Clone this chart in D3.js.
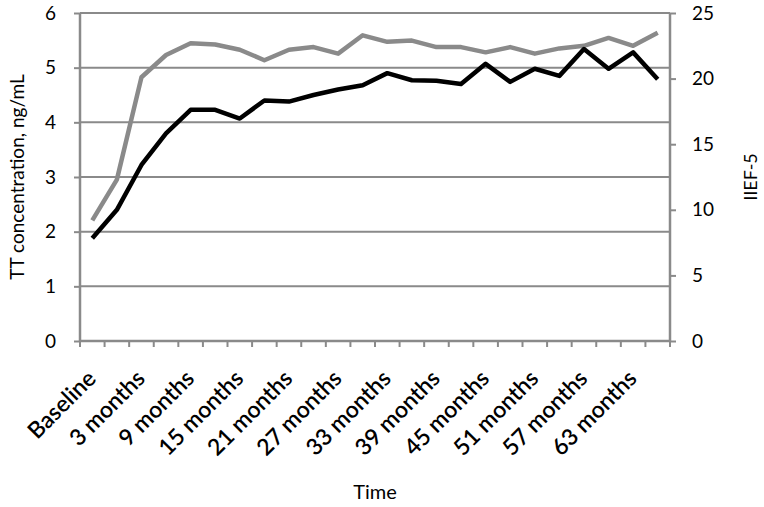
<!DOCTYPE html>
<html>
<head>
<meta charset="utf-8">
<script src="https://cdn.jsdelivr.net/npm/d3@7"></script>
<style>
  body { margin: 0; background: #fff; }
  text { font-family: Lato, "Open Sans", sans-serif; fill: #000; }
</style>
</head>
<body>
<div id="chart"></div>
<script>
var months = ["Baseline", "1 month", "3 months", "6 months", "9 months", "12 months",
  "15 months", "18 months", "21 months", "24 months", "27 months", "30 months",
  "33 months", "36 months", "39 months", "42 months", "45 months", "48 months",
  "51 months", "54 months", "57 months", "60 months", "63 months", "66 months"];

// TT concentration, ng/mL (left axis, black line)
var tt = [1.88, 2.40, 3.22, 3.80, 4.23, 4.23, 4.07, 4.40, 4.38, 4.50, 4.60, 4.68,
  4.90, 4.77, 4.76, 4.70, 5.07, 4.74, 4.98, 4.85, 5.34, 4.98, 5.28, 4.79];

// IIEF-5 (right axis, grey line)
var iief = [9.2, 12.3, 20.1, 21.8, 22.7, 22.6, 22.2, 21.4, 22.2, 22.4, 21.9, 23.3,
  22.8, 22.9, 22.4, 22.4, 22.0, 22.4, 21.9, 22.3, 22.5, 23.1, 22.5, 23.5];

var leftTicks = [0, 1, 2, 3, 4, 5, 6];
var rightTicks = [0, 5, 10, 15, 20, 25];

var svg_width = 764, svg_height = 507;
var pl = 80, pr = 670, pt = 13, pb = 341;

var svg = d3.select("#chart").append("svg")
  .attr("width", svg_width)
  .attr("height", svg_height);

var x = d3.scaleBand().domain(months).range([pl, pr]);
var yL = d3.scaleLinear().domain([0, 6]).range([pb, pt]);
var yR = d3.scaleLinear().domain([0, 25]).range([pb, pt]);

var grey = "#8a8a8a";

// gridlines
svg.append("g").selectAll("line")
  .data(leftTicks.slice(1))
  .enter().append("line")
  .attr("x1", pl).attr("x2", pr)
  .attr("y1", function(d){ return yL(d); })
  .attr("y2", function(d){ return yL(d); })
  .attr("stroke", grey).attr("stroke-width", 2);

// left axis
var axL = svg.append("g").attr("transform", "translate(" + pl + ",0)")
  .call(d3.axisLeft(yL).tickValues(leftTicks).tickFormat(d3.format("d"))
    .tickSize(6).tickPadding(18));
// right axis
var axR = svg.append("g").attr("transform", "translate(" + pr + ",0)")
  .call(d3.axisRight(yR).tickValues(rightTicks).tickSize(6).tickPadding(16));
// bottom axis, ticks between categories
var axB = svg.append("g").attr("transform", "translate(0," + pb + ")")
  .call(d3.axisBottom(x).tickSize(0)
    .tickFormat(function(d, i){ return i % 2 == 0 ? d : ""; }));

svg.append("g").selectAll("line")
  .data(months.concat(["end"]))
  .enter().append("line")
  .attr("x1", function(d, i){ return pl + i * x.step(); })
  .attr("x2", function(d, i){ return pl + i * x.step(); })
  .attr("y1", pb).attr("y2", pb + 6)
  .attr("stroke", grey).attr("stroke-width", 2);

[axL, axR, axB].forEach(function(a){
  a.selectAll("path, line").attr("stroke", grey).attr("stroke-width", 2);
  a.select(".domain").attr("stroke-width", 2.5);
  a.selectAll("text").style("font-family", "Lato, 'Open Sans', sans-serif")
    .style("font-size", "19px").attr("fill", "#000");
});
axL.select(".domain").attr("d", "M0," + pt + "V" + pb);
axR.select(".domain").attr("d", "M0," + pt + "V" + pb);
axB.select(".domain").attr("d", "M" + pl + ",0H" + pr);

axB.selectAll("text")
  .style("font-size", "23px")
  .style("font-weight", "600")
  .attr("text-anchor", "end")
  .attr("x", 0).attr("y", 0).attr("dy", 0)
  .attr("transform", "translate(5,39) rotate(-45)");

// lines
var lineL = d3.line()
  .x(function(d, i){ return x(months[i]) + x.bandwidth() / 2; })
  .y(function(d){ return yL(d); });
var lineR = d3.line()
  .x(function(d, i){ return x(months[i]) + x.bandwidth() / 2; })
  .y(function(d){ return yR(d); });

svg.append("path").datum(iief)
  .attr("d", lineR)
  .attr("fill", "none").attr("stroke", grey)
  .attr("stroke-width", 4.5).attr("stroke-linejoin", "round");

svg.append("path").datum(tt)
  .attr("d", lineL)
  .attr("fill", "none").attr("stroke", "#000")
  .attr("stroke-width", 4.5).attr("stroke-linejoin", "round");

// axis titles
svg.append("text")
  .attr("transform", "translate(24," + ((pt + pb) / 2) + ") rotate(-90)")
  .attr("text-anchor", "middle")
  .style("font-size", "19px")
  .text("TT concentration, ng/mL");

svg.append("text")
  .attr("transform", "translate(757," + ((pt + pb) / 2) + ") rotate(-90)")
  .attr("text-anchor", "middle")
  .style("font-size", "18px")
  .text("IIEF-5");

svg.append("text")
  .attr("x", 375).attr("y", 499)
  .attr("text-anchor", "middle")
  .style("font-size", "20px")
  .text("Time");
</script>
</body>
</html>
